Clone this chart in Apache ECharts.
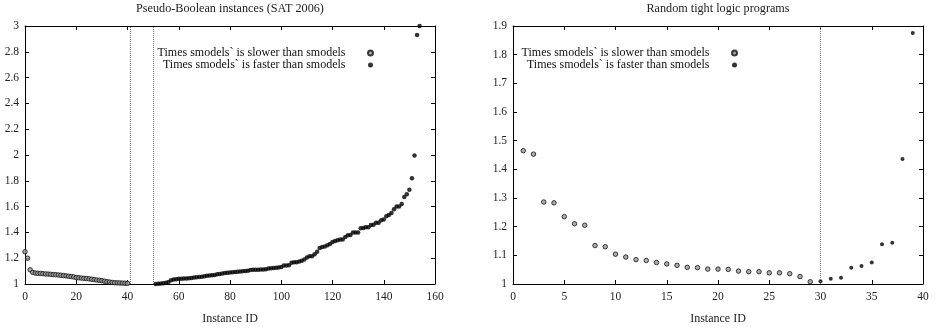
<!DOCTYPE html>
<html>
<head>
<meta charset="utf-8">
<script src="https://cdn.jsdelivr.net/npm/echarts@6/dist/echarts.min.js"></script>
<style>
html,body{margin:0;padding:0;background:#fff;}
#c{width:937px;height:330px;}
</style>
</head>
<body>
<div id="c"></div>
<script>
// ---------- Data ----------
const titleLeft = 'Pseudo-Boolean instances (SAT 2006)';
const titleRight = 'Random tight logic programs';
const xAxisName = 'Instance ID';
const seriesNames = ['Times smodels` is slower than smodels', 'Times smodels` is faster than smodels'];

// Left: Pseudo-Boolean instances
const pbSlowerIds = [0,1,2,3,4,5,6,7,8,9,10,11,12,13,14,15,16,17,18,19,20,21,22,23,24,25,26,27,28,29,30,31,32,33,34,35,36,37,38,39,40];
const pbSlowerTimes = [1.25,1.20,1.11,1.09,1.085,1.083,1.082,1.08,1.078,1.077,1.075,1.073,1.072,1.07,1.068,1.065,1.063,1.06,1.058,1.055,1.05,1.048,1.046,1.044,1.042,1.04,1.037,1.034,1.031,1.029,1.026,1.022,1.018,1.015,1.012,1.01,1.009,1.008,1.007,1.006,1.005];
const pbFasterIds = [51,52,53,54,55,56,57,58,59,60,61,62,63,64,65,66,67,68,69,70,71,72,73,74,75,76,77,78,79,80,81,82,83,84,85,86,87,88,89,90,91,92,93,94,95,96,97,98,99,100,101,102,103,104,105,106,107,108,109,110,111,112,113,114,115,116,117,118,119,120,121,122,123,124,125,126,127,128,129,130,131,132,133,134,135,136,137,138,139,140,141,142,143,144,145,146,147,148,149,150,151,152,153,154];
const pbFasterTimes = [1.000,1.002,1.004,1.006,1.010,1.016,1.030,1.035,1.037,1.040,1.041,1.042,1.043,1.044,1.046,1.050,1.052,1.055,1.057,1.060,1.063,1.066,1.068,1.070,1.075,1.078,1.082,1.085,1.087,1.089,1.091,1.093,1.095,1.097,1.099,1.100,1.102,1.108,1.110,1.111,1.111,1.112,1.113,1.115,1.120,1.123,1.125,1.126,1.128,1.132,1.143,1.143,1.145,1.165,1.168,1.168,1.175,1.180,1.190,1.205,1.215,1.215,1.230,1.250,1.280,1.287,1.290,1.300,1.310,1.325,1.333,1.340,1.345,1.345,1.365,1.378,1.380,1.400,1.400,1.400,1.433,1.435,1.440,1.440,1.458,1.460,1.475,1.475,1.495,1.500,1.525,1.535,1.550,1.580,1.600,1.600,1.620,1.675,1.695,1.730,1.820,1.997,2.930,3.000];
const pbDividers = [41, 50];

// Right: Random tight logic programs
const rtSlowerIds = [1,2,3,4,5,6,7,8,9,10,11,12,13,14,15,16,17,18,19,20,21,22,23,24,25,26,27,28,29];
const rtSlowerTimes = [1.465,1.453,1.286,1.283,1.235,1.210,1.205,1.134,1.130,1.104,1.094,1.085,1.082,1.075,1.070,1.065,1.058,1.057,1.052,1.052,1.051,1.045,1.043,1.043,1.039,1.039,1.036,1.026,1.008];
const rtFasterIds = [30,31,32,33,34,35,36,37,38,39];
const rtFasterTimes = [1.010,1.018,1.022,1.057,1.063,1.075,1.139,1.144,1.436,1.876];
const rtDividers = [30];

// Axis settings
const pbX = {min:0, max:160, interval:20};
const pbY = {min:1, max:3, interval:0.2};
const rtX = {min:0, max:40, interval:5};
const rtY = {min:1, max:1.9, interval:0.1};

// ---------- Chart ----------
const FONT = 'Liberation Serif';
const TXT = '#222';
const zip = (xs, ys) => xs.map((x, i) => [x, ys[i]]);

function axis(kind, pos, cfg, grid, showLabel, name) {
  const a = {
    type: 'value', gridIndex: grid, position: pos,
    min: cfg.min, max: cfg.max, interval: cfg.interval,
    splitLine: {show: false},
    axisLine: {show: true, onZero: false, lineStyle: {color: '#000', width: 1}},
    axisTick: {show: true, inside: true, length: 4, lineStyle: {color: '#000', width: 1}},
    axisLabel: {show: showLabel, color: TXT, fontFamily: FONT, fontSize: 11.5, margin: kind === 'x' ? 7 : 6},
  };
  if (name) {
    a.name = name; a.nameLocation = 'middle'; a.nameGap = 29;
    a.nameTextStyle = {color: TXT, fontFamily: FONT, fontSize: 12};
  }
  return a;
}

const slowerStyle = {color: '#999', borderColor: '#111', borderWidth: 1};
const fasterStyle = {color: '#000'};

function divider(vals) {
  return {
    silent: true, symbol: 'none', label: {show: false},
    lineStyle: {type: 'dotted', color: '#777', width: 1},
    data: vals.map(v => ({xAxis: v}))
  };
}

const legendBase = {
  data: seriesNames, orient: 'vertical', align: 'right', top: 47, padding: 0,
  itemGap: 0, itemWidth: 40, itemHeight: 5, selectedMode: false,
  textStyle: {fontFamily: FONT, fontSize: 12, color: '#111', lineHeight: 12}
};

const titleStyle = {fontFamily: FONT, fontSize: 12.2, fontWeight: 'normal', color: TXT};

const option = {
  animation: false,
  backgroundColor: '#fff',
  title: [
    {text: titleLeft, left: 230, top: 3, textAlign: 'center', padding: 0, textStyle: titleStyle},
    {text: titleRight, left: 718, top: 3, textAlign: 'center', padding: 0, textStyle: titleStyle}
  ],
  legend: [
    Object.assign({}, legendBase, {right: 563}),
    Object.assign({}, legendBase, {right: 199})
  ],
  grid: [
    {left: 25, right: 502, top: 26, bottom: 40},
    {left: 513, right: 14, top: 26, bottom: 40}
  ],
  xAxis: [
    axis('x', 'bottom', pbX, 0, true, xAxisName),
    axis('x', 'top', pbX, 0, false),
    axis('x', 'bottom', rtX, 1, true, xAxisName),
    axis('x', 'top', rtX, 1, false)
  ],
  yAxis: [
    axis('y', 'left', pbY, 0, true),
    axis('y', 'right', pbY, 0, false),
    axis('y', 'left', rtY, 1, true),
    axis('y', 'right', rtY, 1, false)
  ],
  series: [
    {name: seriesNames[0], type: 'scatter', xAxisIndex: 0, yAxisIndex: 0,
     data: zip(pbSlowerIds, pbSlowerTimes), symbol: 'circle', symbolSize: 4.5,
     itemStyle: slowerStyle, markLine: divider(pbDividers)},
    {name: seriesNames[1], type: 'scatter', xAxisIndex: 0, yAxisIndex: 0,
     data: zip(pbFasterIds, pbFasterTimes), symbol: 'circle', symbolSize: 4.5,
     itemStyle: fasterStyle},
    {name: seriesNames[0], type: 'scatter', xAxisIndex: 2, yAxisIndex: 2,
     data: zip(rtSlowerIds, rtSlowerTimes), symbol: 'circle', symbolSize: 4.5,
     itemStyle: slowerStyle, markLine: divider(rtDividers)},
    {name: seriesNames[1], type: 'scatter', xAxisIndex: 2, yAxisIndex: 2,
     data: zip(rtFasterIds, rtFasterTimes), symbol: 'circle', symbolSize: 4,
     itemStyle: fasterStyle}
  ]
};

const chart = echarts.init(document.getElementById('c'), null, {renderer: 'canvas'});
chart.setOption(option);
</script>
</body>
</html>
